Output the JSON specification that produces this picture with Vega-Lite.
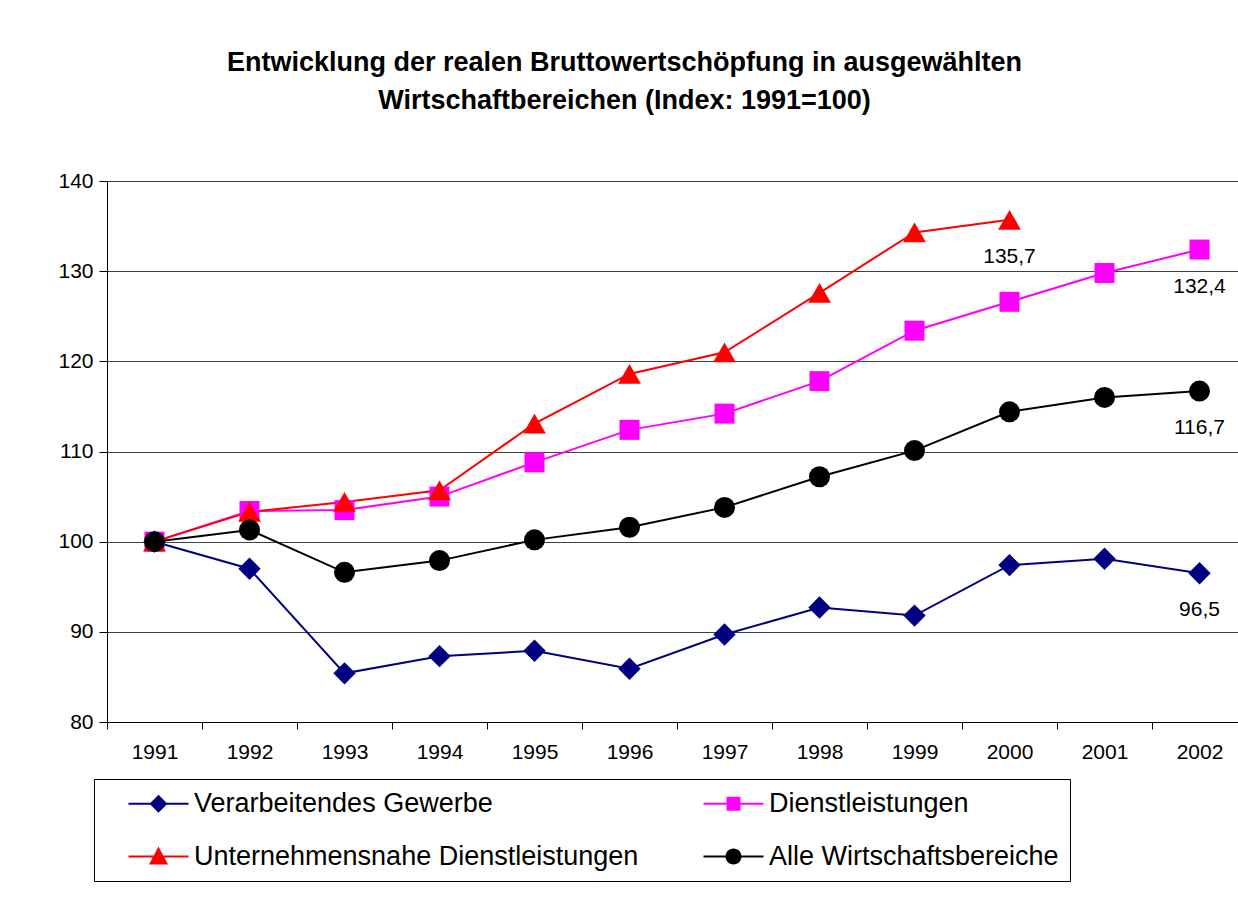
{
  "$schema": "https://vega.github.io/schema/vega-lite/v6.json",
  "width": 1131,
  "height": 541,
  "autosize": {"type": "none"},
  "padding": {"left": 107, "top": 181, "right": 0, "bottom": 189},
  "background": "white",
  "config": {
    "view": {"stroke": null},
    "font": "Liberation Sans",
    "axis": {"labelColor": "black", "labelFont": "Liberation Sans"}
  },
  "title": {
    "text": ["Entwicklung der realen Bruttowertschöpfung in ausgewählten", "Wirtschaftbereichen (Index: 1991=100)"],
    "fontSize": 27,
    "fontWeight": "bold",
    "font": "Liberation Sans",
    "color": "black",
    "lineHeight": 38,
    "anchor": "middle",
    "dx": -48,
    "offset": 55
  },
  "data": {
    "values": [
      {"series": "Verarbeitendes Gewerbe", "year": "1991", "value": 100},
      {"series": "Verarbeitendes Gewerbe", "year": "1992", "value": 97.0},
      {"series": "Verarbeitendes Gewerbe", "year": "1993", "value": 85.4},
      {"series": "Verarbeitendes Gewerbe", "year": "1994", "value": 87.3},
      {"series": "Verarbeitendes Gewerbe", "year": "1995", "value": 87.9},
      {"series": "Verarbeitendes Gewerbe", "year": "1996", "value": 85.9},
      {"series": "Verarbeitendes Gewerbe", "year": "1997", "value": 89.7},
      {"series": "Verarbeitendes Gewerbe", "year": "1998", "value": 92.7},
      {"series": "Verarbeitendes Gewerbe", "year": "1999", "value": 91.8},
      {"series": "Verarbeitendes Gewerbe", "year": "2000", "value": 97.4},
      {"series": "Verarbeitendes Gewerbe", "year": "2001", "value": 98.1},
      {"series": "Verarbeitendes Gewerbe", "year": "2002", "value": 96.5, "label": "96,5"},
      {"series": "Dienstleistungen", "year": "1991", "value": 100},
      {"series": "Dienstleistungen", "year": "1992", "value": 103.4},
      {"series": "Dienstleistungen", "year": "1993", "value": 103.5},
      {"series": "Dienstleistungen", "year": "1994", "value": 105.0},
      {"series": "Dienstleistungen", "year": "1995", "value": 108.8},
      {"series": "Dienstleistungen", "year": "1996", "value": 112.4},
      {"series": "Dienstleistungen", "year": "1997", "value": 114.2},
      {"series": "Dienstleistungen", "year": "1998", "value": 117.8},
      {"series": "Dienstleistungen", "year": "1999", "value": 123.4},
      {"series": "Dienstleistungen", "year": "2000", "value": 126.6},
      {"series": "Dienstleistungen", "year": "2001", "value": 129.8},
      {"series": "Dienstleistungen", "year": "2002", "value": 132.4, "label": "132,4"},
      {"series": "Unternehmensnahe Dienstleistungen", "year": "1991", "value": 100},
      {"series": "Unternehmensnahe Dienstleistungen", "year": "1992", "value": 103.3},
      {"series": "Unternehmensnahe Dienstleistungen", "year": "1993", "value": 104.4},
      {"series": "Unternehmensnahe Dienstleistungen", "year": "1994", "value": 105.7},
      {"series": "Unternehmensnahe Dienstleistungen", "year": "1995", "value": 113.1},
      {"series": "Unternehmensnahe Dienstleistungen", "year": "1996", "value": 118.6},
      {"series": "Unternehmensnahe Dienstleistungen", "year": "1997", "value": 121.0},
      {"series": "Unternehmensnahe Dienstleistungen", "year": "1998", "value": 127.6},
      {"series": "Unternehmensnahe Dienstleistungen", "year": "1999", "value": 134.3},
      {"series": "Unternehmensnahe Dienstleistungen", "year": "2000", "value": 135.7, "label": "135,7"},
      {"series": "Alle Wirtschaftsbereiche", "year": "1991", "value": 100},
      {"series": "Alle Wirtschaftsbereiche", "year": "1992", "value": 101.3},
      {"series": "Alle Wirtschaftsbereiche", "year": "1993", "value": 96.6},
      {"series": "Alle Wirtschaftsbereiche", "year": "1994", "value": 97.9},
      {"series": "Alle Wirtschaftsbereiche", "year": "1995", "value": 100.2},
      {"series": "Alle Wirtschaftsbereiche", "year": "1996", "value": 101.6},
      {"series": "Alle Wirtschaftsbereiche", "year": "1997", "value": 103.8},
      {"series": "Alle Wirtschaftsbereiche", "year": "1998", "value": 107.2},
      {"series": "Alle Wirtschaftsbereiche", "year": "1999", "value": 110.1},
      {"series": "Alle Wirtschaftsbereiche", "year": "2000", "value": 114.4},
      {"series": "Alle Wirtschaftsbereiche", "year": "2001", "value": 116.0},
      {"series": "Alle Wirtschaftsbereiche", "year": "2002", "value": 116.7, "label": "116,7"}
    ]
  },
  "encoding": {
    "x": {
      "field": "year",
      "type": "ordinal",
      "scale": {"type": "band", "paddingInner": 0, "paddingOuter": 0, "range": [0, 1140]},
      "axis": {
        "title": null,
        "labelAngle": 0,
        "tickBand": "extent",
        "labelFontSize": 21,
        "domainColor": "black",
        "tickColor": "black",
        "tickSize": 7,
        "labelPadding": 12,
        "grid": false
      }
    },
    "y": {
      "field": "value",
      "type": "quantitative",
      "scale": {"domain": [80, 140], "nice": false, "zero": false},
      "axis": {
        "title": null,
        "values": [80, 90, 100, 110, 120, 130, 140],
        "labelFontSize": 21,
        "grid": true,
        "gridColor": "#404040",
        "gridWidth": 1,
        "domainColor": "black",
        "tickColor": "black",
        "tickSize": 8,
        "labelPadding": 6
      }
    },
    "color": {
      "field": "series",
      "type": "nominal",
      "scale": {
        "domain": ["Verarbeitendes Gewerbe", "Dienstleistungen", "Unternehmensnahe Dienstleistungen", "Alle Wirtschaftsbereiche"],
        "range": ["#000080", "#FF00FF", "#FF0000", "#000000"]
      },
      "legend": {
        "orient": "none",
        "direction": "horizontal",
        "legendX": -13,
        "legendY": 598,
        "columns": 2,
        "title": null,
        "labelFontSize": 27,
        "labelFont": "Liberation Sans",
        "labelColor": "black",
        "labelLimit": 0,
        "symbolSize": 676,
        "symbolStrokeWidth": 0,
        "symbolOpacity": 1,
        "labelOffset": 62,
        "strokeColor": "black",
        "fillColor": "white",
        "padding": 11,
        "gridAlign": "each",
        "columnPadding": 41,
        "rowPadding": 25
      }
    }
  },
  "layer": [
    {
      "mark": {"type": "point", "filled": true, "size": 0, "opacity": 1},
      "encoding": {
        "shape": {
          "field": "series",
          "type": "nominal",
          "scale": {
            "domain": ["Verarbeitendes Gewerbe", "Dienstleistungen", "Unternehmensnahe Dienstleistungen", "Alle Wirtschaftsbereiche"],
            "range": [
              "M0.769,-0.077H5.385V0.077H0.769Z M3.077,-0.692L3.769,0L3.077,0.692L2.385,0Z",
              "M0.769,-0.077H5.385V0.077H0.769Z M2.539,-0.538H3.615V0.538H2.539Z",
              "M0.769,-0.077H5.385V0.077H0.769Z M3.077,-0.769L3.808,0.615L2.346,0.615Z",
              "M0.769,-0.077H5.385V0.077H0.769Z M3.692,0A0.615,0.615,0,1,1,2.462,0A0.615,0.615,0,1,1,3.692,0Z"
            ]
          }
        }
      }
    },
    {
      "mark": {"type": "line", "strokeWidth": 2}
    },
    {
      "transform": [{"filter": "datum.series === 'Verarbeitendes Gewerbe'"}],
      "mark": {"type": "point", "filled": true, "size": 500, "opacity": 1, "shape": "diamond"}
    },
    {
      "transform": [{"filter": "datum.series === 'Dienstleistungen'"}],
      "mark": {"type": "point", "filled": true, "size": 400, "opacity": 1, "shape": "square"}
    },
    {
      "transform": [{"filter": "datum.series === 'Unternehmensnahe Dienstleistungen'"}],
      "mark": {"type": "point", "filled": true, "size": 520, "opacity": 1, "shape": "triangle-up"}
    },
    {
      "transform": [{"filter": "datum.series === 'Alle Wirtschaftsbereiche'"}],
      "mark": {"type": "point", "filled": true, "size": 441, "opacity": 1, "shape": "circle"}
    },
    {
      "transform": [{"filter": "isValid(datum.label)"}],
      "mark": {"type": "text", "dy": 37, "fontSize": 21, "color": "black", "font": "Liberation Sans"},
      "encoding": {"text": {"field": "label"}, "color": {"value": "black"}}
    }
  ]
}
